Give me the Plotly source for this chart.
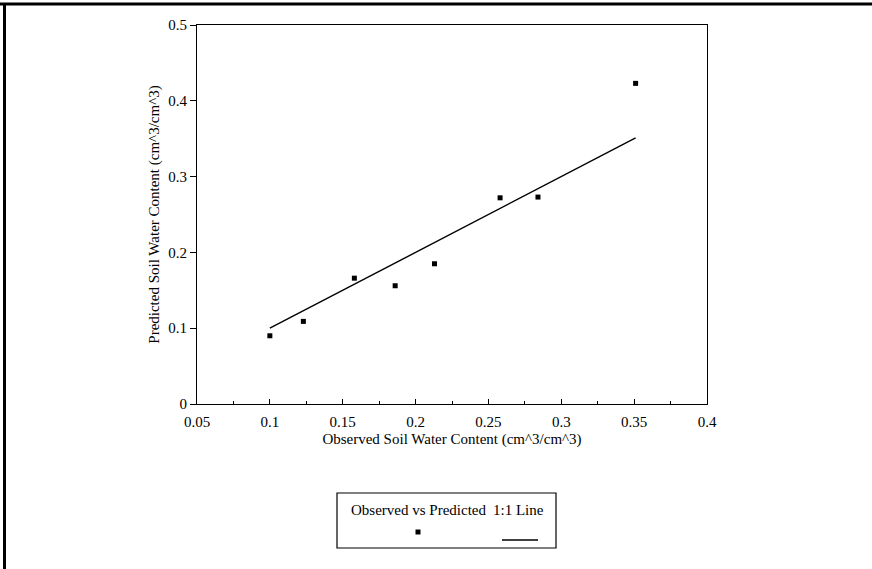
import plotly.graph_objects as go

observed = [0.100, 0.123, 0.158, 0.186, 0.213, 0.258, 0.284, 0.351]
predicted = [0.090, 0.109, 0.166, 0.156, 0.185, 0.272, 0.273, 0.423]
line_x = [0.100, 0.351]
line_y = [0.100, 0.351]

W, H = 872, 569
L, R, T, B = 197, 165, 25, 165
pw, ph = W - L - R, H - T - B


def px(x):
    return (x - L) / pw


def py(y):
    return (H - B - y) / ph


FONT = "Liberation Serif"
FS = 15

fig = go.Figure()
fig.add_trace(go.Scatter(x=observed, y=predicted, mode="markers",
                         marker=dict(symbol="square", size=5, color="black"),
                         name="Observed vs Predicted", showlegend=False))
fig.add_trace(go.Scatter(x=line_x, y=line_y, mode="lines",
                         line=dict(color="black", width=1.4),
                         name="1:1 Line", showlegend=False))

shapes = [
    # page border (top and left)
    dict(type="line", xref="paper", yref="paper", x0=px(0), x1=px(W), y0=py(4), y1=py(4),
         line=dict(color="black", width=3)),
    dict(type="line", xref="paper", yref="paper", x0=px(4.5), x1=px(4.5), y0=py(3), y1=py(H),
         line=dict(color="black", width=3)),
    # legend box
    dict(type="rect", xref="paper", yref="paper", x0=px(337), x1=px(556), y0=py(493), y1=py(548),
         line=dict(color="black", width=1.2), fillcolor="white"),
    dict(type="rect", xref="paper", yref="paper", x0=px(415.5), x1=px(420.5), y0=py(529.5), y1=py(534.5),
         line=dict(width=0), fillcolor="black"),
    dict(type="line", xref="paper", yref="paper", x0=px(502), x1=px(538), y0=py(540), y1=py(540),
         line=dict(color="black", width=1.4)),
]

annotations = [
    dict(text="Observed vs Predicted", xref="paper", yref="paper", x=px(418), y=py(510),
         xanchor="center", yanchor="middle",
         showarrow=False, font=dict(family=FONT, size=FS, color="black")),
    dict(text="1:1 Line", xref="paper", yref="paper", x=px(518), y=py(510),
         xanchor="center", yanchor="middle",
         showarrow=False, font=dict(family=FONT, size=FS, color="black")),
]

fig.update_layout(
    width=W, height=H,
    margin=dict(l=L, r=R, t=T, b=B),
    paper_bgcolor="white", plot_bgcolor="white",
    font=dict(family=FONT, size=FS, color="black"),
    shapes=shapes, annotations=annotations,
    showlegend=False,
)
fig.update_xaxes(range=[0.05, 0.4], dtick=0.05, tick0=0.05, showgrid=False, zeroline=False,
                 showline=True, linecolor="black", linewidth=1.2, mirror=True,
                 ticks="inside", ticklen=5, tickcolor="black", ticklabelstandoff=4,
                 minor=dict(ticks="inside", ticklen=3, dtick=0.025, tickcolor="black"),
                 tickfont=dict(family=FONT, size=FS, color="black"),
                 title=dict(text="Observed Soil Water Content (cm^3/cm^3)", standoff=4,
                            font=dict(family=FONT, size=FS, color="black")))
fig.update_yaxes(range=[0, 0.5], dtick=0.1, showgrid=False, zeroline=False,
                 showline=True, linecolor="black", linewidth=1.2, mirror=True,
                 ticks="outside", ticklen=6, tickcolor="black",
                 tickfont=dict(family=FONT, size=FS, color="black"),
                 title=dict(text="Predicted Soil Water Content (cm^3/cm^3)", standoff=4,
                            font=dict(family=FONT, size=FS, color="black")))

fig.write_html("out.html", config={"displayModeBar": False},
               post_script="document.body.style.margin='0';document.body.style.overflow='hidden';")
